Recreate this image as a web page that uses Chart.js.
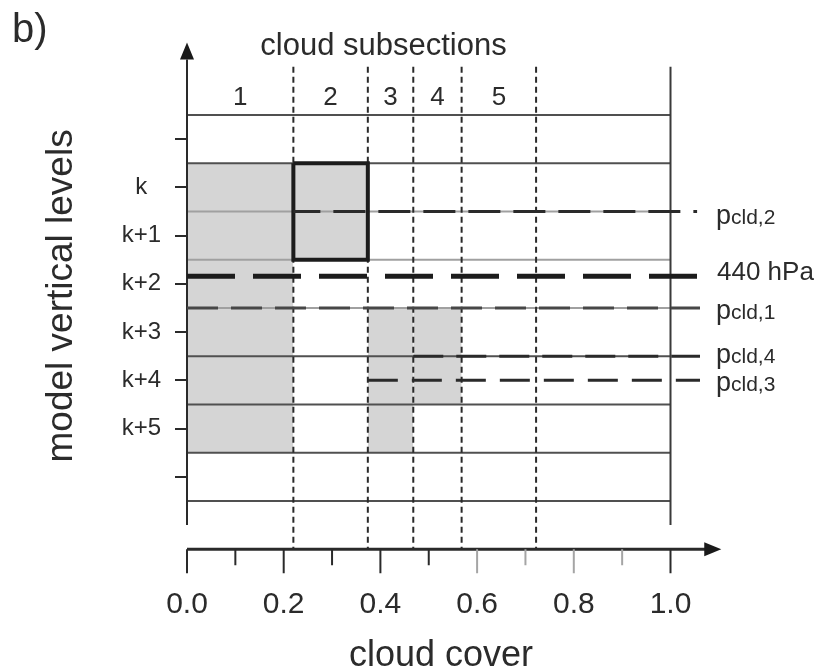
<!DOCTYPE html>
<html lang="en">
<head>
<meta charset="utf-8">
<title>cloud subsections</title>
<script src="https://cdn.jsdelivr.net/npm/chart.js@4.4.1/dist/chart.umd.min.js"></script>
<style>
  html, body { margin: 0; padding: 0; background: #ffffff; }
  canvas { display: block; }
</style>
</head>
<body>
<canvas id="graficoNuvens" width="820" height="669"></canvas>
<script>
// model levels (y) and their labels
const levelValues = [-1, 0, 1, 2, 3, 4, 5, 6];
const levelLabels = ['', 'k', 'k+1', 'k+2', 'k+3', 'k+4', 'k+5', ''];

// cloud subsections along the cloud cover axis
const subsectionNames = ['1', '2', '3', '4', '5'];
const subsectionEdges = [0, 0.22, 0.374, 0.468, 0.568, 0.722];
const cloudTopLevel = [0, 0, 3, 3, null];
const cloudBottomLevel = [5, 1, 5, 4, null];
const outlinedSubsection = 1;

// pressure lines on the right
const pressureMain = ['p', '440 hPa', 'p', 'p', 'p'];
const pressureSub = ['cld,2', '', 'cld,1', 'cld,4', 'cld,3'];
const pressureLevel = [0.5, 1.84, 2.5, 3.5, 4.0];
const pressureStart = [0.22, 0, 0, 0.468, 0.374];
const pressureEnd = [1.055, 1.061, 1.061, 1.061, 1.061];

const xTicks = [0, 0.2, 0.4, 0.6, 0.8, 1.0];
const xMinorTicks = [0.1, 0.3, 0.5, 0.7, 0.9];

const FONT = "'Liberation Sans', Arial, Helvetica, sans-serif";
Chart.defaults.font.family = FONT;
Chart.defaults.color = '#2b2b2b';

const paintOrder = []; // bottom first, reversed at the end

// grey cloudy cells
subsectionNames.forEach((name, i) => {
  if (cloudTopLevel[i] === null) return;
  paintOrder.push({
    label: 'cloud ' + name,
    data: [
      { x: subsectionEdges[i], y: cloudTopLevel[i] - 0.5 },
      { x: subsectionEdges[i + 1], y: cloudTopLevel[i] - 0.5 }
    ],
    fill: { value: cloudBottomLevel[i] + 0.5 },
    backgroundColor: '#d5d5d5',
    borderColor: 'rgba(0,0,0,0)',
    borderWidth: 0
  });
});

// level boundaries
const boundaries = levelValues.map(v => v - 0.5);
boundaries.push(levelValues[levelValues.length - 1] + 0.5);
boundaries.forEach(b => {
  paintOrder.push({
    data: [{ x: 0, y: b }, { x: 1, y: b }],
    borderColor: (b > 0 && b < 3) ? '#a0a0a0' : '#505050',
    borderWidth: 2
  });
});

// subsection borders (dotted)
subsectionEdges.slice(1).forEach(e => {
  paintOrder.push({
    data: [{ x: e, y: -2.5 }, { x: e, y: 7.5 }],
    borderColor: '#2a2a2a',
    borderWidth: 2,
    borderDash: [6, 4]
  });
});

// right edge, y axis and x axis lines
paintOrder.push({ data: [{ x: 1, y: -2.5 }, { x: 1, y: 7.0 }], borderColor: '#3a3a3a', borderWidth: 2 });
paintOrder.push({ data: [{ x: 0, y: -2.65 }, { x: 0, y: 7.0 }], borderColor: '#2a2a2a', borderWidth: 2 });
paintOrder.push({ data: [{ x: 0, y: 7.5 }, { x: 1.075, y: 7.5 }], borderColor: '#2a2a2a', borderWidth: 3 });

// outlined cloud cell
const oi = outlinedSubsection;
paintOrder.push({
  data: [
    { x: subsectionEdges[oi], y: cloudTopLevel[oi] - 0.5 },
    { x: subsectionEdges[oi + 1], y: cloudTopLevel[oi] - 0.5 },
    { x: subsectionEdges[oi + 1], y: cloudBottomLevel[oi] + 0.5 },
    { x: subsectionEdges[oi], y: cloudBottomLevel[oi] + 0.5 },
    { x: subsectionEdges[oi], y: cloudTopLevel[oi] - 0.5 }
  ],
  borderColor: '#1c1c1c',
  borderWidth: 4,
  borderJoinStyle: 'miter'
});

// dashed pressure lines
const pressureStyles = [
  { color: '#2a2a2a', width: 3, dash: [32, 13], offset: 5 },
  { color: '#1c1c1c', width: 5, dash: [48, 18], offset: 0 },
  { color: '#474747', width: 3, dash: [31, 13], offset: 0 },
  { color: '#2a2a2a', width: 3, dash: [30, 13], offset: 0 },
  { color: '#2a2a2a', width: 3, dash: [30, 14], offset: 0 }
];
pressureMain.forEach((name, i) => {
  const st = pressureStyles[i];
  paintOrder.push({
    label: name + pressureSub[i],
    data: [{ x: pressureStart[i], y: pressureLevel[i] }, { x: pressureEnd[i], y: pressureLevel[i] }],
    borderColor: st.color,
    borderWidth: st.width,
    borderDash: st.dash,
    borderDashOffset: st.offset
  });
});

const datasets = paintOrder.reverse();
datasets.forEach(d => {
  d.clip = false;
  d.pointRadius = 0;
  if (d.fill === undefined) d.fill = false;
});

const sketchPlugin = {
  id: 'sketch',
  afterDraw(chart) {
    const { ctx, scales: { x, y } } = chart;
    const x0 = x.getPixelForValue(0);
    const axisY = y.getPixelForValue(7.5);
    ctx.save();

    // arrow heads
    ctx.fillStyle = '#1a1a1a';
    const topTip = y.getPixelForValue(-3);
    ctx.beginPath();
    ctx.moveTo(x0, topTip);
    ctx.lineTo(x0 - 7, topTip + 17);
    ctx.lineTo(x0 + 7, topTip + 17);
    ctx.closePath();
    ctx.fill();
    const rightTip = x.getPixelForValue(1.105);
    ctx.beginPath();
    ctx.moveTo(rightTip, axisY);
    ctx.lineTo(rightTip - 17, axisY - 7);
    ctx.lineTo(rightTip - 17, axisY + 7);
    ctx.closePath();
    ctx.fill();

    // x tick marks
    ctx.lineWidth = 2;
    xTicks.concat(xMinorTicks).forEach(v => {
      const px = x.getPixelForValue(v);
      const len = xTicks.includes(v) ? 24 : 16;
      ctx.strokeStyle = (v > 0.55 && v < 0.95) ? '#a5a5a5' : '#2a2a2a';
      ctx.beginPath();
      ctx.moveTo(px, axisY);
      ctx.lineTo(px, axisY + len);
      ctx.stroke();
    });

    // texts
    ctx.fillStyle = '#2b2b2b';
    ctx.textBaseline = 'alphabetic';
    ctx.textAlign = 'left';
    ctx.font = '40px ' + FONT;
    ctx.fillText('b)', 12, 42);

    ctx.textAlign = 'center';
    ctx.font = '31px ' + FONT;
    ctx.fillText('cloud subsections', 383.5, 55);

    ctx.font = '26px ' + FONT;
    const topLine = y.getPixelForValue(levelValues[0] - 0.5);
    subsectionNames.forEach((name, i) => {
      const mid = x.getPixelForValue((subsectionEdges[i] + subsectionEdges[i + 1]) / 2);
      ctx.fillText(name, mid, topLine - 10);
    });

    const labelDy = [13, 4, 11, 7, 11];
    ctx.textAlign = 'left';
    pressureMain.forEach((main, i) => {
      const base = y.getPixelForValue(pressureLevel[i]) + labelDy[i];
      if (pressureSub[i]) {
        ctx.font = '27px ' + FONT;
        ctx.fillText(main, 716, base);
        const w = ctx.measureText(main).width;
        ctx.font = '21px ' + FONT;
        ctx.fillText(pressureSub[i], 716 + w, base);
      } else {
        ctx.font = '26px ' + FONT;
        ctx.fillText(main, 717, base);
      }
    });

    ctx.textAlign = 'center';
    ctx.font = '36px ' + FONT;
    ctx.fillText('cloud cover', 441, 666);
    ctx.restore();
  }
};

new Chart(document.getElementById('graficoNuvens'), {
  type: 'line',
  data: { datasets: datasets },
  options: {
    responsive: false,
    animation: false,
    events: [],
    layout: { padding: { top: 42.6, right: 149.5, bottom: 0, left: 0 } },
    elements: {
      point: { radius: 0 },
      line: { tension: 0, borderCapStyle: 'butt' }
    },
    plugins: {
      legend: { display: false },
      tooltip: { enabled: false },
      filler: { drawTime: 'beforeDatasetsDraw' }
    },
    scales: {
      x: {
        type: 'linear',
        min: 0,
        max: 1,
        grid: { display: false, drawTicks: false },
        border: { display: false },
        afterBuildTicks: s => { s.ticks = xTicks.map(v => ({ value: v })); },
        afterFit: s => { s.height = 669 - 549.25; },
        ticks: {
          padding: 37,
          autoSkip: false,
          maxRotation: 0,
          font: { size: 30 },
          callback: v => v.toFixed(1)
        }
      },
      y: {
        type: 'linear',
        reverse: true,
        min: -3,
        max: 7.5,
        grid: { drawOnChartArea: false, drawTicks: true, tickLength: 12, color: '#2a2a2a', lineWidth: 2 },
        border: { display: false },
        afterBuildTicks: s => { s.ticks = levelValues.map(v => ({ value: v })); },
        afterFit: s => { s.width = 187; },
        ticks: {
          padding: 14,
          crossAlign: 'center',
          autoSkip: false,
          font: { size: 24 },
          callback: (v, i) => levelLabels[i]
        },
        title: {
          display: true,
          text: 'model vertical levels',
          font: { size: 37 },
          padding: { top: 40, bottom: 0 }
        }
      }
    }
  },
  plugins: [sketchPlugin]
});
</script>
</body>
</html>
